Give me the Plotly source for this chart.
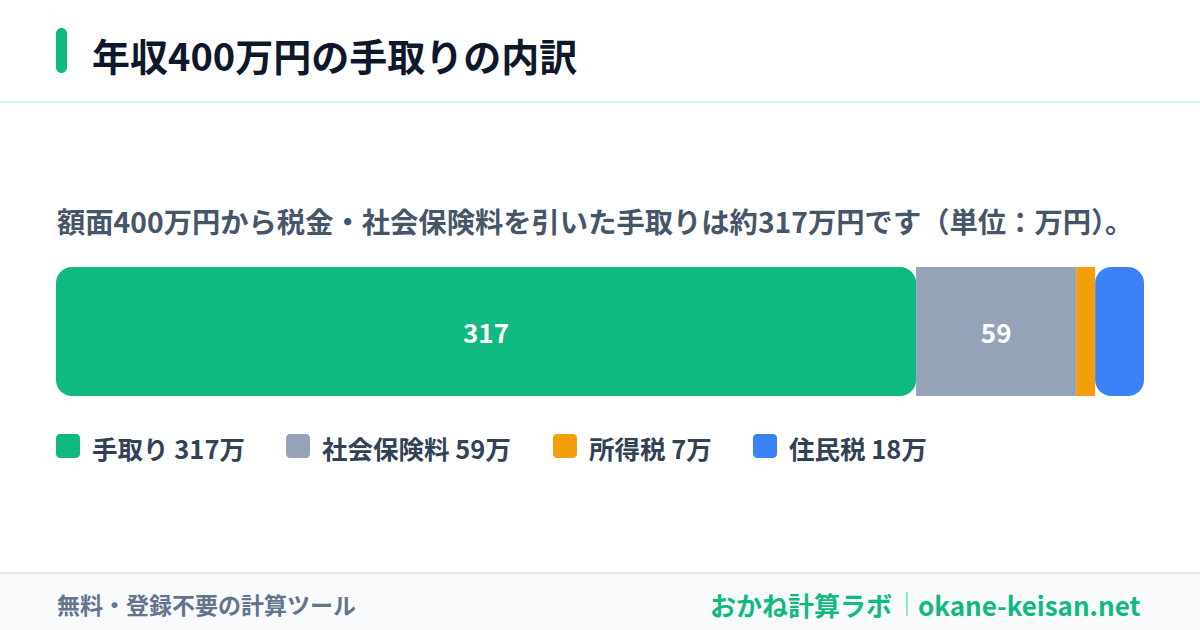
"""Take-home pay breakdown card for a 4,000,000 yen salary."""

import plotly.graph_objects as go

W, H = 1200, 630
FONT = "Noto Sans CJK JP"

# data (units: 万円)
segments = ["手取り", "社会保険料", "所得税", "住民税"]
values = [317, 59, 7, 18]
gross = 400

title_text = f"年収{gross}万円の手取りの内訳"
subtitle_text = f"額面{gross}万円から税金・社会保険料を引いた手取りは約{values[0]}万円です（単位：万円）。"
footer_left = "無料・登録不要の計算ツール"
brand_name = "おかね計算ラボ"
brand_url = "okane-keisan.net"

COLORS = ["#10b981", "#94a3b8", "#f59e0b", "#3b82f6"]


def px_x(x):
    return x / W


def px_y(y):
    return 1 - y / H


def rounded_rect(x0, y0, x1, y1, r):
    """SVG path (paper coords) for a rounded rectangle given in pixels."""
    k = 0.5523 * r
    pts = [
        f"M{px_x(x0 + r)},{px_y(y0)}",
        f"L{px_x(x1 - r)},{px_y(y0)}",
        f"C{px_x(x1 - r + k)},{px_y(y0)} {px_x(x1)},{px_y(y0 + r - k)} {px_x(x1)},{px_y(y0 + r)}",
        f"L{px_x(x1)},{px_y(y1 - r)}",
        f"C{px_x(x1)},{px_y(y1 - r + k)} {px_x(x1 - r + k)},{px_y(y1)} {px_x(x1 - r)},{px_y(y1)}",
        f"L{px_x(x0 + r)},{px_y(y1)}",
        f"C{px_x(x0 + r - k)},{px_y(y1)} {px_x(x0)},{px_y(y1 - r + k)} {px_x(x0)},{px_y(y1 - r)}",
        f"L{px_x(x0)},{px_y(y0 + r)}",
        f"C{px_x(x0)},{px_y(y0 + r - k)} {px_x(x0 + r - k)},{px_y(y0)} {px_x(x0 + r)},{px_y(y0)}",
        "Z",
    ]
    return " ".join(pts)


fig = go.Figure()

# stacked bar built with explicit bases so both outer ends can be rounded
total = sum(values)
bases = [sum(values[:i]) for i in range(len(values))]
last = len(values) - 1
for i, (name, v) in enumerate(zip(segments, values)):
    label = f"<b>{v}</b>" if v >= 30 else ""
    if i == 0:
        # drawn from its right edge back to 0 so the left end gets the rounding
        base, size, radius = bases[i] + v, -v, 16
    else:
        base, size, radius = bases[i], v, 16 if i == last else 0
    fig.add_trace(go.Bar(
        y=["内訳"],
        x=[size],
        base=[base],
        orientation="h",
        width=1,
        name=name,
        marker=dict(color=COLORS[i], line=dict(width=0), cornerradius=radius),
        text=[label],
        textposition="inside",
        insidetextanchor="middle",
        textangle=0,
        textfont=dict(family=FONT, size=26, color="white"),
        hoverinfo="skip",
        showlegend=False,
    ))

shapes = [
    # title accent pill
    dict(type="path", xref="paper", yref="paper", path=rounded_rect(56, 28, 67, 73, 5.5),
         fillcolor="#10b981", line=dict(width=0)),
    # header divider
    dict(type="rect", xref="paper", yref="paper", x0=0, x1=1, y0=px_y(103), y1=px_y(101),
         fillcolor="#d1fae5", line=dict(width=0)),
    # footer band
    dict(type="rect", xref="paper", yref="paper", x0=0, x1=1, y0=0, y1=px_y(574),
         fillcolor="#f8fafc", line=dict(width=0), layer="below"),
    dict(type="rect", xref="paper", yref="paper", x0=0, x1=1, y0=px_y(574), y1=px_y(572),
         fillcolor="#e2e8f0", line=dict(width=0)),
    # brand separator
    dict(type="line", xref="paper", yref="paper", x0=px_x(907), x1=px_x(907),
         y0=px_y(616), y1=px_y(592), line=dict(color="#6ee7b7", width=1.5)),
]

annotations = [
    dict(text=f"<b>{title_text}</b>", x=px_x(90), y=px_y(54),
         font=dict(family=FONT, size=38, color="#0f172a")),
    dict(text=f"<b>{subtitle_text}</b>", x=px_x(55), y=px_y(221),
         font=dict(family=FONT, size=28.3, color="#475569")),
    dict(text=f"<b>{footer_left}</b>", x=px_x(55), y=px_y(604),
         font=dict(family=FONT, size=23, color="#64748b")),
    dict(text=f"<b>{brand_name}</b>", x=px_x(894), y=px_y(604), xanchor="right",
         font=dict(family=FONT, size=26, color="#10b981")),
    dict(text=f"<b>{brand_url}</b>", x=px_x(1143), y=px_y(604), xanchor="right",
         font=dict(family=FONT, size=26, color="#10b981")),
]

# legend row: swatch + label, left edges measured from the card
legend_x = [56, 286, 553, 753]
for i, (name, v) in enumerate(zip(segments, values)):
    x0 = legend_x[i]
    shapes.append(dict(type="path", xref="paper", yref="paper",
                       path=rounded_rect(x0, 434, x0 + 24, 458, 4),
                       fillcolor=COLORS[i], line=dict(width=0)))
    annotations.append(dict(text=f"<b>{name} {v}万</b>", x=px_x(x0 + 34), y=px_y(447),
                            font=dict(family=FONT, size=25.5, color="#334155")))

for a in annotations:
    a.setdefault("xanchor", "left")
    a.update(xref="paper", yref="paper", yanchor="middle", showarrow=False)

fig.update_layout(
    width=W,
    height=H,
    margin=dict(l=0, r=0, t=0, b=0),
    paper_bgcolor="white",
    plot_bgcolor="rgba(0,0,0,0)",
    barmode="overlay",
    xaxis=dict(domain=[px_x(56), px_x(1144)], range=[0, total], visible=False, fixedrange=True),
    yaxis=dict(domain=[px_y(396), px_y(267)], range=[-0.5, 0.5], visible=False, fixedrange=True),
    shapes=shapes,
    annotations=annotations,
    font=dict(family=FONT),
)

# the page body has a default 8px margin; drop it so the card fills the window
fig.write_html(
    "out.html",
    config={"displayModeBar": False},
    post_script="document.body.style.margin = '0';",
)
